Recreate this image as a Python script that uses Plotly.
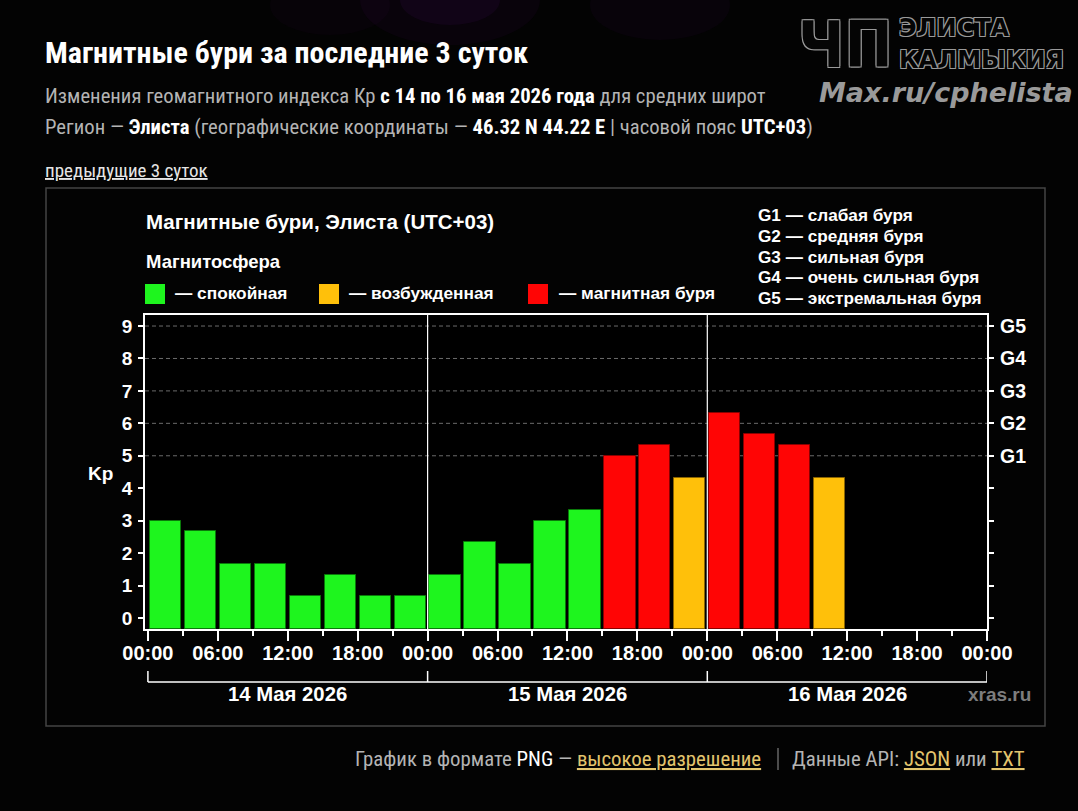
import plotly.graph_objects as go

# ---------------- data ----------------
kp_values = [3.0, 2.67, 1.67, 1.67, 0.67, 1.33, 0.67, 0.67,
             1.33, 2.33, 1.67, 3.0, 3.33, 5.0, 5.33, 4.33,
             6.33, 5.67, 5.33, 4.33]
hours = [1.5 + 3 * i for i in range(len(kp_values))]   # centre of each 3-hour interval since 14 May 00:00

x_tick_vals = [0, 6, 12, 18, 24, 30, 36, 42, 48, 54, 60, 66, 72]
x_tick_text = ["00:00", "06:00", "12:00", "18:00"] * 3 + ["00:00"]
y_tick_vals = list(range(10))
g_levels = [5, 6, 7, 8, 9]
g_labels = ["G1", "G2", "G3", "G4", "G5"]
day_centres = [12, 36, 60]
day_labels = ["14 Мая 2026", "15 Мая 2026", "16 Мая 2026"]
day_bounds = [0, 24, 48, 72]

# ---------------- styles ----------------
GREEN, YELLOW, RED = "#1ef51e", "#ffc00a", "#ff0505"
def colour(v):
    if v >= 5:
        return RED
    if v >= 4:
        return YELLOW
    return GREEN
def edge(v):
    if v >= 5:
        return "#8a0000"
    if v >= 4:
        return "#8a6400"
    return "#0a7a0a"

Y_MIN, Y_MAX = -0.34, 9.34
L, R, T, B = 145, 987, 315, 629
W, H = 1078, 811
def px(x):
    return (x - L) / (R - L)
def py(y):
    return (B - y) / (B - T)

ARIAL = "Liberation Sans, Arial, sans-serif"
PAGE = "Roboto Condensed, Liberation Sans Narrow, Roboto, sans-serif"

fig = go.Figure()
fig.add_trace(go.Bar(
    x=hours,
    y=[v - Y_MIN for v in kp_values],
    base=Y_MIN,
    width=2.68,
    marker=dict(color=[colour(v) for v in kp_values],
                line=dict(color=[edge(v) for v in kp_values], width=1)),
    hoverinfo="skip",
    showlegend=False,
))

shapes = []
for lv in g_levels:
    shapes.append(dict(type="line", xref="paper", yref="y", x0=0, x1=1, y0=lv, y1=lv,
                       line=dict(color="#6a6a6a", width=1, dash="4px,3px"), layer="below"))
for d in day_bounds[1:-1]:
    shapes.append(dict(type="line", xref="x", yref="paper", x0=d, x1=d, y0=0, y1=1,
                       line=dict(color="#ffffff", width=1.2)))
shapes.append(dict(type="line", xref="x", yref="paper", x0=day_bounds[0], x1=day_bounds[-1],
                   y0=py(682), y1=py(682), line=dict(color="#ffffff", width=1.5)))
for d in day_bounds:
    shapes.append(dict(type="line", xref="x", yref="paper", x0=d, x1=d,
                       y0=py(682), y1=py(671), line=dict(color="#ffffff", width=1.5)))
shapes.append(dict(type="rect", xref="paper", yref="paper", x0=px(46), x1=px(1045),
                   y0=py(726), y1=py(188), line=dict(color="#444444", width=1.5), layer="below"))
for x0, c in [(145, GREEN), (319, YELLOW), (528, RED)]:
    shapes.append(dict(type="rect", xref="paper", yref="paper", x0=px(x0), x1=px(x0 + 20),
                       y0=py(304), y1=py(284), fillcolor=c, line=dict(width=0)))
shapes.append(dict(type="line", xref="paper", yref="paper", x0=px(778), x1=px(778),
                   y0=py(770), y1=py(748), line=dict(color="#666666", width=1.5)))
# very faint purple haze at the top
for (cx, cy, r, a) in [(450, 0, 90, 0.06), (450, 0, 50, 0.08), (660, 5, 70, 0.05), (330, 5, 60, 0.04)]:
    shapes.append(dict(type="circle", xref="paper", yref="paper", x0=px(cx - r), x1=px(cx + r),
                       y0=py(cy + r * 0.5), y1=py(cy - r * 0.5), fillcolor="rgba(120,20,160,%s)" % a,
                       line=dict(width=0), layer="below"))

ann = []
def text(x, y, s, size, color="#ffffff", family=ARIAL, anchor="left", yanchor="middle", **kw):
    ann.append(dict(xref="paper", yref="paper", x=px(x), y=py(y), text=s, showarrow=False,
                    xanchor=anchor, yanchor=yanchor, borderpad=0,
                    font=dict(size=size, color=color, family=family, **kw)))

# page header
text(44, 52, "<b>Магнитные бури за последние 3 суток</b>", 30, family=PAGE)
text(44, 96, "Изменения геомагнитного индекса Кр <b style='color:#ffffff'>с 14 по 16 мая 2026 года</b> для средних широт",
     20.7, color="#b4b4b4", family=PAGE)
text(44, 127, "Регион — <b style='color:#ffffff'>Элиста</b> (географические координаты — <b style='color:#ffffff'>46.32 N 44.22 E</b> | часовой пояс <b style='color:#ffffff'>UTC+03</b>)",
     20.7, color="#b4b4b4", family=PAGE)
text(44, 170, "<u>предыдущие 3 суток</u>", 19, color="#e6e6e6", family=PAGE)

# watermark logo
outline = "1px 1px 0 #9a9a9a, -1px -1px 0 #9a9a9a, 1px -1px 0 #9a9a9a, -1px 1px 0 #9a9a9a"
text(797, 45, "<b>ЧП</b>", 64, color="#050505", family="DejaVu Sans Condensed, DejaVu Sans", shadow=outline)
text(898, 28, "<b>ЭЛИСТА</b>", 24, color="#050505", family="DejaVu Sans", shadow=outline)
text(898, 60, "<b>КАЛМЫКИЯ</b>", 24, color="#050505", family="DejaVu Sans", shadow=outline)
text(1074, 93, "<b><i>Max.ru/cphelista</i></b>", 27, color="#9a9a9a", family="DejaVu Sans", anchor="right")

# chart texts
text(145, 221, "<b>Магнитные бури, Элиста (UTC+03)</b>", 20.5)
text(145, 261, "<b>Магнитосфера</b>", 18.5)
text(174, 293, "<b>— спокойная</b>", 17.3)
text(348, 293, "<b>— возбужденная</b>", 17.3)
text(558, 293, "<b>— магнитная буря</b>", 17.3)
for i, line in enumerate(["G1 — слабая буря", "G2 — средняя буря", "G3 — сильная буря",
                          "G4 — очень сильная буря", "G5 — экстремальная буря"]):
    text(757, 215 + i * 20.8, "<b>" + line + "</b>", 17.2)
text(100, 473, "<b>Kp</b>", 19, anchor="center")
for lv, lab in zip(g_levels, g_labels):
    ann.append(dict(xref="paper", yref="y", x=px(998), y=lv, text="<b>" + lab + "</b>", showarrow=False,
                    xanchor="left", yanchor="middle", font=dict(size=19.5, color="#ffffff", family=ARIAL)))
for xc, lab in zip(day_centres, day_labels):
    ann.append(dict(xref="x", yref="paper", x=xc, y=py(694), text="<b>" + lab + "</b>", showarrow=False,
                    xanchor="center", yanchor="middle", font=dict(size=20.3, color="#ffffff", family=ARIAL)))
text(999, 694, "<b>xras.ru</b>", 19, color="#7d7d7d", anchor="center")

# footer
text(354, 759, "График в формате <span style='color:#ffffff'>PNG</span> — <span style='color:#e3c56e'><u>высокое разрешение</u></span>",
     20.8, color="#b4b4b4", family=PAGE)
text(791, 759, "Данные API: <span style='color:#e3c56e'><u>JSON</u></span> или <span style='color:#e3c56e'><u>TXT</u></span>",
     20.8, color="#b4b4b4", family=PAGE)

fig.update_layout(
    width=W, height=H, autosize=False,
    margin=dict(l=L, r=W - R, t=T, b=H - B, pad=0),
    paper_bgcolor="#030303", plot_bgcolor="#000000",
    bargap=0,
    shapes=shapes, annotations=ann,
    xaxis=dict(range=[-0.25, 72], tickvals=x_tick_vals, ticktext=x_tick_text,
               ticks="outside", ticklen=10, tickwidth=1.5, tickcolor="#ffffff",
               minor=dict(tickvals=[3 + 6 * i for i in range(12)], ticks="outside", ticklen=5,
                          tickwidth=1.5, tickcolor="#ffffff", showgrid=False),
               showline=True, linecolor="#ffffff", linewidth=1.5, mirror=True,
               showgrid=False, zeroline=False, fixedrange=True, ticklabelstandoff=-5,
               tickfont=dict(size=20, color="#ffffff", family=ARIAL, weight="bold")),
    yaxis=dict(range=[Y_MIN, Y_MAX], tickvals=y_tick_vals,
               ticks="outside", ticklen=5, tickwidth=1.5, tickcolor="#ffffff",
               showline=True, linecolor="#ffffff", linewidth=1.5, mirror="allticks",
               showgrid=False, zeroline=False, fixedrange=True, ticklabelstandoff=2,
               tickfont=dict(size=19, color="#ffffff", family=ARIAL, weight="bold")),
)

fig.write_html("out.html")
